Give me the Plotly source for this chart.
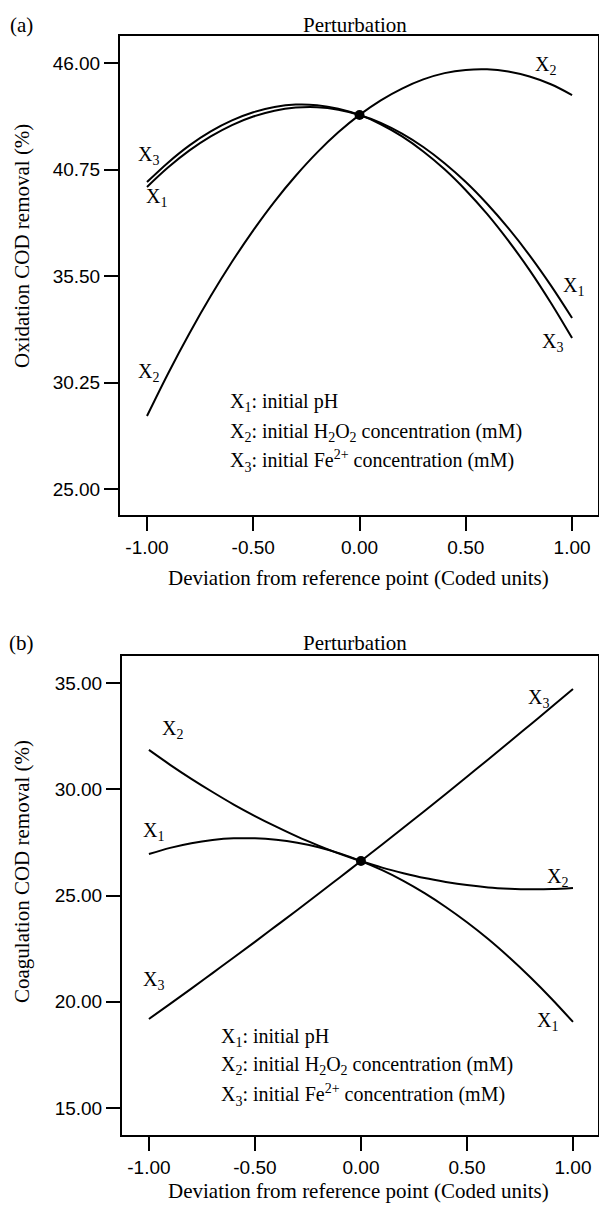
import plotly.graph_objects as go

# ---------------- data ----------------
coded_x = [-1.0, -0.9, -0.8, -0.7, -0.6, -0.5, -0.4, -0.3, -0.2, -0.1, 0.0,
           0.1, 0.2, 0.3, 0.4, 0.5, 0.6, 0.7, 0.8, 0.9, 1.0]

# (a) Oxidation COD removal (%)
ox_x1 = [39.89, 40.86, 41.69, 42.38, 42.94, 43.36, 43.65, 43.80, 43.82, 43.70, 43.44,
         43.05, 42.52, 41.86, 41.06, 40.13, 39.06, 37.86, 36.52, 35.04, 33.43]
ox_x2 = [28.60, 30.71, 32.68, 34.51, 36.20, 37.75, 39.17, 40.44, 41.58, 42.58, 43.44,
         44.16, 44.74, 45.19, 45.50, 45.66, 45.69, 45.58, 45.33, 44.95, 44.42]
ox_x3 = [40.13, 41.10, 41.94, 42.63, 43.17, 43.57, 43.83, 43.95, 43.92, 43.75, 43.44,
         42.98, 42.38, 41.64, 40.76, 39.73, 38.56, 37.24, 35.79, 34.18, 32.44]
ox_ref = 43.44

# (b) Coagulation COD removal (%)
co_x1 = [26.95, 27.24, 27.46, 27.61, 27.69, 27.69, 27.62, 27.48, 27.27, 26.98, 26.62,
         26.19, 25.69, 25.11, 24.46, 23.74, 22.95, 22.08, 21.14, 20.13, 19.05]
co_x2 = [31.85, 31.15, 30.49, 29.87, 29.28, 28.74, 28.24, 27.77, 27.35, 26.96, 26.62,
         26.31, 26.05, 25.82, 25.64, 25.49, 25.38, 25.32, 25.29, 25.30, 25.35]
co_x3 = [19.19, 19.90, 20.62, 21.35, 22.08, 22.82, 23.57, 24.32, 25.08, 25.85, 26.62,
         27.40, 28.19, 28.98, 29.78, 30.59, 31.40, 32.22, 33.05, 33.88, 34.72]
co_ref = 26.62

x_tickvals = [-1.0, -0.5, 0.0, 0.5, 1.0]
x_ticktext = ["-1.00", "-0.50", "0.00", "0.50", "1.00"]
ox_tickvals = [25.00, 30.25, 35.50, 40.75, 46.00]
co_tickvals = [15.0, 20.0, 25.0, 30.0, 35.0]

series_names = ["X<sub>1</sub>", "X<sub>2</sub>", "X<sub>3</sub>"]
factor_desc = ["X<sub>1</sub>: initial pH",
               "X<sub>2</sub>: initial H<sub>2</sub>O<sub>2</sub> concentration (mM)",
               "X<sub>3</sub>: initial Fe<sup>2+</sup> concentration (mM)"]

# ---------------- figure ----------------
W, H = 599, 1206
SERIF = "Liberation Serif, Times New Roman, serif"
SANS = "Liberation Sans, Arial, sans-serif"

def px(x):
    return x / W

def py(y):
    return 1 - y / H

fig = go.Figure()

line_style = dict(color="black", width=2, shape="spline")
for ys in (ox_x1, ox_x2, ox_x3):
    fig.add_trace(go.Scatter(x=coded_x, y=ys, mode="lines", line=line_style,
                             xaxis="x", yaxis="y", showlegend=False, hoverinfo="skip"))
fig.add_trace(go.Scatter(x=[0.0], y=[ox_ref], mode="markers",
                         marker=dict(color="black", size=10), xaxis="x", yaxis="y",
                         showlegend=False))
for ys in (co_x1, co_x2, co_x3):
    fig.add_trace(go.Scatter(x=coded_x, y=ys, mode="lines", line=line_style,
                             xaxis="x2", yaxis="y2", showlegend=False, hoverinfo="skip"))
fig.add_trace(go.Scatter(x=[0.0], y=[co_ref], mode="markers",
                         marker=dict(color="black", size=10), xaxis="x2", yaxis="y2",
                         showlegend=False))

axis_common = dict(showline=True, linecolor="black", linewidth=2, mirror=True,
                   ticks="outside", ticklen=14, tickwidth=2, tickcolor="black",
                   showgrid=False, zeroline=False, automargin=False,
                   tickfont=dict(family=SANS, size=19, color="black"))

fig.update_layout(
    width=W, height=H, margin=dict(l=0, r=0, t=0, b=0),
    paper_bgcolor="white", plot_bgcolor="white", showlegend=False,
    xaxis=dict(domain=[px(120), px(598)], range=[-1.127, 1.122], anchor="y",
               tickvals=x_tickvals, ticktext=x_ticktext, **axis_common),
    yaxis=dict(domain=[py(515), py(36)], range=[23.72, 47.33], anchor="x",
               tickvals=ox_tickvals, tickformat=".2f", **axis_common),
    xaxis2=dict(domain=[px(122), px(598)], range=[-1.127, 1.118], anchor="y2",
                tickvals=x_tickvals, ticktext=x_ticktext, **axis_common),
    yaxis2=dict(domain=[py(1135), py(656)], range=[13.73, 36.27], anchor="x2",
                tickvals=co_tickvals, tickformat=".2f", **axis_common),
)

ann = []
title_font = dict(family=SERIF, size=21, color="black")
centered = dict(xanchor="center", yanchor="middle", showarrow=False)
# panel letters, titles, axis titles
for letter, ytop in (("(a)", 25), ("(b)", 643)):
    ann.append(dict(text=letter, x=px(21), y=py(ytop), xref="paper", yref="paper",
                    font=title_font, **centered))
    ann.append(dict(text="Perturbation", x=px(355), y=py(ytop), xref="paper", yref="paper",
                    font=title_font, **centered))
for ycen in (578, 1191):
    ann.append(dict(text="Deviation from reference point (Coded units)", x=px(358), y=py(ycen),
                    xref="paper", yref="paper", font=title_font, **centered))
ann.append(dict(text="Oxidation COD removal (%)", x=px(22), y=py(246), xref="paper",
                yref="paper", textangle=-90, font=title_font, **centered))
ann.append(dict(text="Coagulation COD removal (%)", x=px(22), y=py(872), xref="paper",
                yref="paper", textangle=-90, font=title_font, **centered))

lab_font = dict(family=SERIF, size=20, color="black")
# curve labels, panel (a)
ox_labels = [(0, -0.953, 39.39), (0, 1.005, 34.96), (1, 0.873, 45.90), (1, -0.995, 30.72),
             (2, -0.995, 41.46), (2, 0.91, 32.20)]
for i, lx, ly in ox_labels:
    ann.append(dict(text=series_names[i], x=lx, y=ly, xref="x", yref="y",
                    font=lab_font, **centered))
co_labels = [(0, -0.98, 27.99), (0, 0.88, 19.05), (1, -0.89, 32.79), (1, 0.925, 25.87),
             (2, -0.98, 21.02), (2, 0.835, 34.29)]
for i, lx, ly in co_labels:
    ann.append(dict(text=series_names[i], x=lx, y=ly, xref="x2", yref="y2",
                    font=lab_font, **centered))

# factor descriptions
for k, yv in enumerate((29.29, 27.81, 26.38)):
    ann.append(dict(text=factor_desc[k], x=-0.619, y=yv, xref="x", yref="y",
                    xanchor="left", yanchor="middle", showarrow=False, font=lab_font))
for k, yv in enumerate((18.34, 16.98, 15.61)):
    ann.append(dict(text=factor_desc[k], x=-0.67, y=yv, xref="x2", yref="y2",
                    xanchor="left", yanchor="middle", showarrow=False, font=lab_font))

fig.update_layout(annotations=ann)
fig.write_html("out.html")
